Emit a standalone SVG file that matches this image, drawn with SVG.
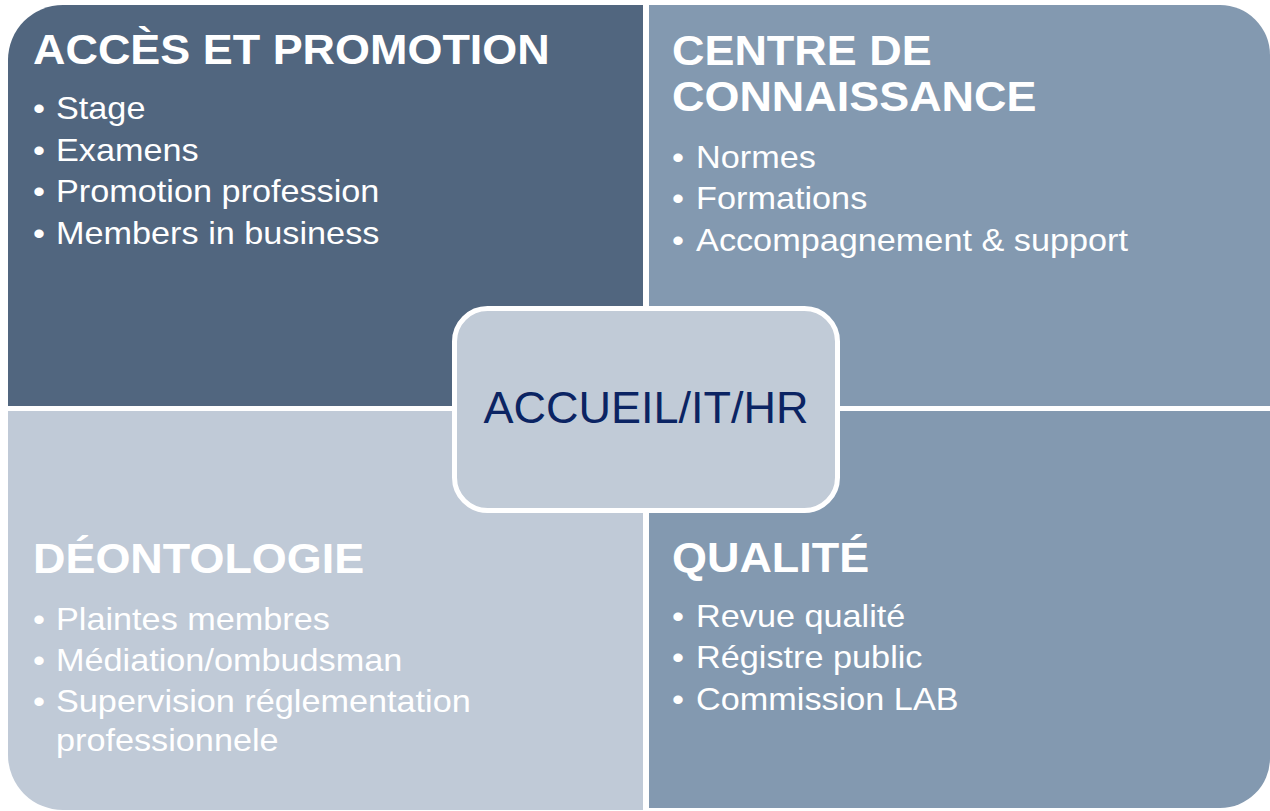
<svg xmlns="http://www.w3.org/2000/svg" width="1270" height="811" viewBox="0 0 1270 811">
  <style>
    .h { font-family: "Liberation Sans", Arial, sans-serif; font-weight: bold; font-size: 42px; fill: #ffffff; }
    .b { font-family: "Liberation Sans", Arial, sans-serif; font-size: 32px; fill: #ffffff; }
    .c { font-family: "Liberation Sans", Arial, sans-serif; font-size: 45px; fill: #0b2463; }
  </style>
  <rect width="1270" height="811" fill="#ffffff"/>
  <g id="acces">
    <path d="M8,406 V60 A55,55 0 0 1 63,5 H643 V406 Z" fill="#51667f"/>
    <g transform="translate(33 0) scale(1.07 1)">
      <text class="h" x="0" y="64">ACCÈS ET PROMOTION</text>
      <text class="b" y="119"><tspan x="0">•</tspan><tspan x="21.5">Stage</tspan></text>
      <text class="b" y="161"><tspan x="0">•</tspan><tspan x="21.5">Examens</tspan></text>
      <text class="b" y="202.5"><tspan x="0">•</tspan><tspan x="21.5">Promotion profession</tspan></text>
      <text class="b" y="244"><tspan x="0">•</tspan><tspan x="21.5">Members in business</tspan></text>
    </g>
  </g>
  <g id="centre">
    <path d="M649,5 H1220 A50,50 0 0 1 1270,55 V406 H649 Z" fill="#8399b0"/>
    <g transform="translate(672 0) scale(1.07 1)">
      <text class="h" x="0" y="65">CENTRE DE</text>
      <text class="h" x="0" y="111">CONNAISSANCE</text>
      <text class="b" y="168"><tspan x="0">•</tspan><tspan x="22.5">Normes</tspan></text>
      <text class="b" y="209.5"><tspan x="0">•</tspan><tspan x="22.5">Formations</tspan></text>
      <text class="b" y="251"><tspan x="0">•</tspan><tspan x="22.5">Accompagnement &amp; support</tspan></text>
    </g>
  </g>
  <g id="deontologie">
    <path d="M8,411 H643 V810 H63 A55,55 0 0 1 8,755 Z" fill="#c0cad7"/>
    <g transform="translate(33 0) scale(1.07 1)">
      <text class="h" x="0" y="573">DÉONTOLOGIE</text>
      <text class="b" y="630"><tspan x="0">•</tspan><tspan x="21.5">Plaintes membres</tspan></text>
      <text class="b" y="671"><tspan x="0">•</tspan><tspan x="21.5">Médiation/ombudsman</tspan></text>
      <text class="b" y="712"><tspan x="0">•</tspan><tspan x="21.5">Supervision réglementation</tspan></text>
      <text class="b" y="751"><tspan x="21.5">professionnele</tspan></text>
    </g>
  </g>
  <g id="qualite">
    <path d="M649,411 H1270 V758 A50,50 0 0 1 1220,808 H649 Z" fill="#8399b0"/>
    <g transform="translate(672 0) scale(1.07 1)">
      <text class="h" x="0" y="572">QUALITÉ</text>
      <text class="b" y="627"><tspan x="0">•</tspan><tspan x="22.5">Revue qualité</tspan></text>
      <text class="b" y="668.5"><tspan x="0">•</tspan><tspan x="22.5">Régistre public</tspan></text>
      <text class="b" y="710"><tspan x="0">•</tspan><tspan x="22.5">Commission LAB</tspan></text>
    </g>
  </g>
  <g id="accueil">
    <rect x="454.5" y="308.5" width="383" height="202" rx="33" ry="33" fill="#c1cbd7" stroke="#ffffff" stroke-width="5"/>
    <text class="c" x="646" y="423" text-anchor="middle">ACCUEIL/IT/HR</text>
  </g>
  <g id="connectors"/>
</svg>
